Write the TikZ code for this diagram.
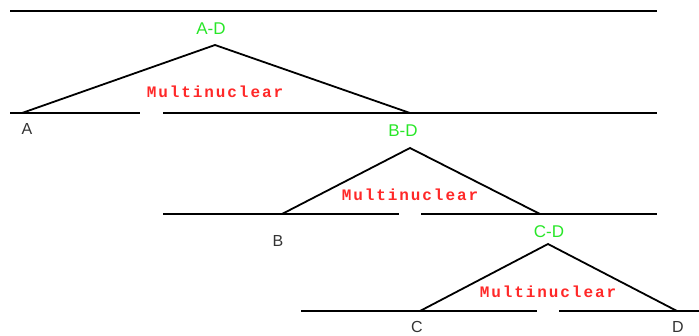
\documentclass[tikz,border=0pt]{standalone}
\usepackage{fontspec}
\setmainfont{Liberation Sans}
\newfontfamily\relfont[LetterSpace=12]{Liberation Mono}
\usetikzlibrary{positioning}
\definecolor{spangreen}{RGB}{40,230,40}
\definecolor{relred}{RGB}{255,40,40}

\begin{document}
\begin{tikzpicture}[
  x=1pt, y=-1pt,
  span/.style={line width=2pt, line cap=butt},
  edge/.style={line width=1.8pt, line join=miter},
  spanlabel/.style={text=spangreen, font=\fontsize{17}{17}\selectfont, inner sep=0pt},
  leaf/.style={text=black!80, font=\fontsize{16}{16}\selectfont, inner sep=0pt},
  relation/.style={text=relred, font=\relfont\bfseries\fontsize{16}{16}\selectfont, inner sep=0pt}
]
  \useasboundingbox (0,0) rectangle (699,335);

  % horizontal spans
  \coordinate (top l) at (10,11);   \coordinate (top r) at (657,11);
  \coordinate (l1a) at (10,113);    \coordinate (l1b) at (140,113);
  \coordinate (l1c) at (163,113);   \coordinate (l1d) at (657,113);
  \coordinate (l2a) at (163,214);   \coordinate (l2b) at (399,214);
  \coordinate (l2c) at (421,214);   \coordinate (l2d) at (657,214);
  \coordinate (l3a) at (301,311);   \coordinate (l3b) at (537,311);
  \coordinate (l3c) at (559,311);   \coordinate (l3d) at (699,311);

  \draw[span] (top l) -- (top r);
  \draw[span] (l1a) -- (l1b);
  \draw[span] (l1c) -- (l1d);
  \draw[span] (l2a) -- (l2b);
  \draw[span] (l2c) -- (l2d);
  \draw[span] (l3a) -- (l3b);
  \draw[span] (l3c) -- (l3d);

  % multinuclear triangles
  \coordinate (ad top) at (215,45);  \coordinate (ad l) at (22,113);  \coordinate (ad r) at (410,113);
  \coordinate (bd top) at (410,148); \coordinate (bd l) at (282,214); \coordinate (bd r) at (540,214);
  \coordinate (cd top) at (548,244); \coordinate (cd l) at (420,311); \coordinate (cd r) at (677,311);

  \draw[edge] (ad l) -- (ad top) -- (ad r);
  \draw[edge] (bd l) -- (bd top) -- (bd r);
  \draw[edge] (cd l) -- (cd top) -- (cd r);

  \node[spanlabel] (ad) at (211,29) {A-D};
  \node[spanlabel] (bd) at (403,131) {B-D};
  \node[spanlabel] (cd) at (549,232) {C-D};

  \node[relation] (ad rel) at (215,92) {Multinuclear};
  \node[relation] (bd rel) at (410,195) {Multinuclear};
  \node[relation] (cd rel) at (548,292) {Multinuclear};

  \node[leaf] (a) at (27,129) {A};
  \node[leaf] (b) at (278,241) {B};
  \node[leaf] (c) at (417,327) {C};
  \node[leaf] (d) at (678,327) {D};
\end{tikzpicture}
\end{document}
